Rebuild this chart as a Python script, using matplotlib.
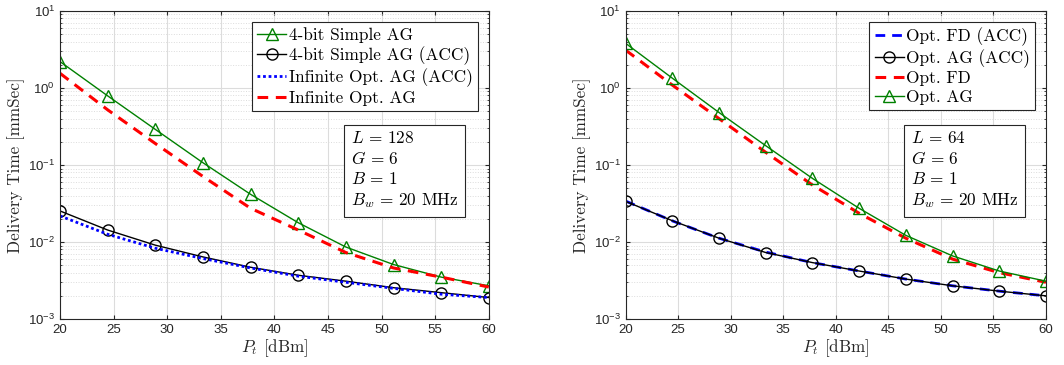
import matplotlib
matplotlib.use("Agg")
import matplotlib.pyplot as plt
import numpy as np
from matplotlib.font_manager import FontProperties
from matplotlib.ticker import LogLocator, NullFormatter

# transmit power grid (markers placed on every point)
pt = np.linspace(20, 60, 10)

# left panel: L = 128
simple_ag = [2.2, 0.79, 0.29, 0.107, 0.0416, 0.0178, 0.0086, 0.0051, 0.0035, 0.0027]
simple_ag_acc = [0.0253, 0.0143, 0.0091, 0.0064, 0.0047, 0.0037, 0.0031, 0.00255, 0.0022, 0.0019]
inf_ag_acc = [0.0218, 0.0126, 0.0083, 0.0061, 0.0046, 0.0036, 0.0030, 0.0025, 0.0021, 0.0019]
inf_ag = [1.55, 0.52, 0.19, 0.071, 0.0274, 0.0143, 0.0073, 0.0046, 0.0035, 0.0026]

# right panel: L = 64
opt_fd_acc = [0.0340, 0.0188, 0.0112, 0.0074, 0.0054, 0.0042, 0.0033, 0.0027, 0.0023, 0.0020]
opt_ag_acc = [0.0337, 0.0189, 0.0112, 0.0073, 0.0054, 0.0042, 0.0033, 0.0027, 0.0023, 0.0020]
opt_fd = [3.1, 1.09, 0.40, 0.146, 0.055, 0.0236, 0.0112, 0.0060, 0.0040, 0.0030]
opt_ag = [3.8, 1.34, 0.48, 0.178, 0.067, 0.0274, 0.0122, 0.0066, 0.0042, 0.0031]

xticks = [20, 25, 30, 35, 40, 45, 50, 55, 60]
yticks = [1e-3, 1e-2, 1e-1, 1e0, 1e1]
ytick_labels = ["$10^{-3}$", "$10^{-2}$", "$10^{-1}$", "$10^{0}$", "$10^{1}$"]

plt.rcParams["mathtext.fontset"] = "custom"
plt.rcParams["mathtext.rm"] = "Liberation Sans"
plt.rcParams["mathtext.it"] = "Liberation Sans:italic"
plt.rcParams["font.family"] = "Liberation Sans"

GREEN = "#008000"
serif = FontProperties(family="cmr10", size=12.4, math_fontfamily="cm")
label_font = FontProperties(family="cmr10", size=12.3, math_fontfamily="cm")


def style_axes(ax, params):
    ax.set_yscale("log")
    ax.set_xlim(20, 60)
    ax.set_ylim(1e-3, 1e1)
    ax.set_xticks(xticks)
    ax.set_yticks(yticks)
    ax.set_yticklabels(ytick_labels)
    ax.yaxis.set_minor_locator(LogLocator(base=10, subs=np.arange(2, 10)))
    ax.yaxis.set_minor_formatter(NullFormatter())
    ax.tick_params(which="both", direction="in", top=True, right=True,
                   labelsize=9.5, colors="#262626", length=3)
    ax.tick_params(which="minor", length=1.5)
    ax.grid(True, which="major", color="#dcdcdc", linewidth=0.8)
    ax.grid(True, which="minor", color="#dcdcdc", linestyle=":", linewidth=0.7)
    ax.set_axisbelow(True)
    for s in ax.spines.values():
        s.set_color("#262626")
        s.set_linewidth(0.8)
    ax.set_xlabel(r"$P_t$ [dBm]", fontproperties=label_font, color="#262626", labelpad=1)
    ax.set_ylabel("Delivery Time [mmSec]", fontproperties=label_font, color="#262626",
                  labelpad=2)
    ax.text(0.678, 0.613, params, transform=ax.transAxes, fontproperties=serif,
            va="top", ha="left", linespacing=1.3,
            bbox=dict(boxstyle="square,pad=0.4", fc="white", ec="#262626", lw=0.8))


fig = plt.figure(figsize=(10.64, 3.65), dpi=100)
ax1 = fig.add_axes([0.0564, 0.126, 0.403, 0.844])
ax2 = fig.add_axes([0.588, 0.126, 0.395, 0.844])

ax1.plot(pt, simple_ag, color=GREEN, lw=1, marker="^", ms=8, mfc="none", mew=1,
         label="4-bit Simple AG")
ax1.plot(pt, simple_ag_acc, color="black", lw=1, marker="o", ms=8, mfc="none", mew=1,
         label="4-bit Simple AG (ACC)")
ax1.plot(pt, inf_ag_acc, color="blue", lw=2, linestyle=(0, (1, 1)),
         label="Infinite Opt. AG (ACC)")
ax1.plot(pt, inf_ag, color="red", lw=2.2, linestyle=(0, (3.5, 2.5)),
         label="Infinite Opt. AG")
style_axes(ax1, r"$L\,=\,128$" + "\n" + r"$G\,=\,6$" + "\n" + r"$B\,=\,1$" + "\n"
           + r"$B_w\,=\,20$ MHz")

ax2.plot(pt, opt_fd_acc, color="blue", lw=2, linestyle=(0, (3.5, 2.5)),
         label="Opt. FD (ACC)")
ax2.plot(pt, opt_ag_acc, color="black", lw=1, marker="o", ms=8, mfc="none", mew=1,
         label="Opt. AG (ACC)")
ax2.plot(pt, opt_fd, color="red", lw=2.2, linestyle=(0, (3.5, 2.5)),
         label="Opt. FD")
ax2.plot(pt, opt_ag, color=GREEN, lw=1, marker="^", ms=8, mfc="none", mew=1,
         label="Opt. AG")
style_axes(ax2, r"$L\,=\,64$" + "\n" + r"$G\,=\,6$" + "\n" + r"$B\,=\,1$" + "\n"
           + r"$B_w\,=\,20$ MHz")

for ax in (ax1, ax2):
    leg = ax.legend(loc="upper right", bbox_to_anchor=(0.975, 0.965), prop=serif,
                    fancybox=False, framealpha=1, edgecolor="#262626",
                    handlelength=1.7, handletextpad=0.15, labelspacing=0.2,
                    borderpad=0.3, borderaxespad=0)
    leg.get_frame().set_linewidth(0.8)

fig.savefig("out.png", dpi=100)
